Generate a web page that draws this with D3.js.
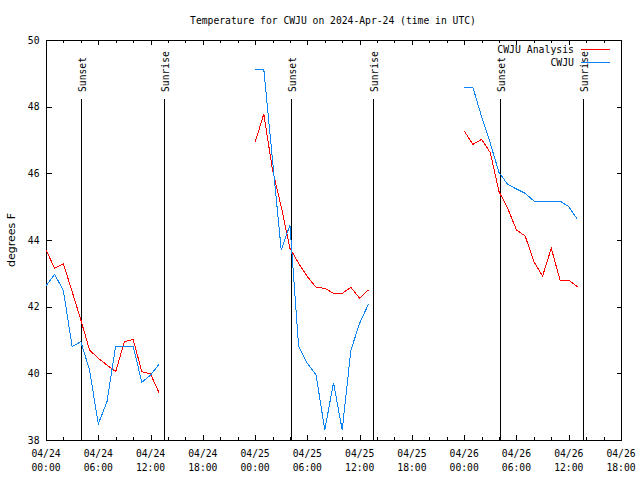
<!DOCTYPE html>
<html>
<head>
<meta charset="utf-8">
<script src="https://cdn.jsdelivr.net/npm/d3@7"></script>
<style>
  html, body { margin: 0; padding: 0; background: #fff; }
  svg { display: block; }
  .mono { font-family: "DejaVu Sans Mono", "Liberation Mono", monospace; }
</style>
</head>
<body>
<svg id="chart" width="640" height="480"></svg>
<script>
// ---- data ----
const startTime = "2024-04-24T00:00:00Z";
const endTime = "2024-04-26T18:00:00Z";
// hours after start for each observation
const hours = d3.range(0, 62);
// CWJU Analysis (red); null = no data
const analysisSeg1 = [43.7, 43.15, 43.28, 42.45, 41.6, 40.7, 40.45, 40.25, 40.05, 40.95, 41.02, 40.05, 39.98, 39.4];
const analysisSeg2 = [46.93, 47.78, 46.1, 45.0, 43.75, 43.3, 42.9, 42.58, 42.55, 42.4, 42.4, 42.58, 42.25, 42.5];
const analysisSeg3 = [47.27, 46.87, 47.02, 46.62, 45.45, 44.95, 44.3, 44.12, 43.35, 42.92, 43.75, 42.8, 42.8, 42.6];
// CWJU observations (blue)
const obsSeg1 = [42.63, 42.97, 42.48, 40.8, 40.95, 40.1, 38.48, 39.15, 40.82, 40.82, 40.82, 39.73, 39.95, 40.28];
const obsSeg2 = [49.12, 49.12, 46.4, 43.7, 44.45, 40.8, 40.3, 39.95, 38.3, 39.72, 38.3, 40.7, 41.5, 42.07];
const obsSeg3 = [48.58, 48.58, 47.7, 46.9, 46.02, 45.67, 45.53, 45.4, 45.17, 45.17, 45.17, 45.17, 45.0, 44.62];
const gap = Array(10).fill(null);
const analysisValues = [...analysisSeg1, ...gap, ...analysisSeg2, ...gap, ...analysisSeg3];
const obsValues = [...obsSeg1, ...gap, ...obsSeg2, ...gap, ...obsSeg3];

const sunsetTimes = ["2024-04-24T04:00:00Z", "2024-04-25T04:06:00Z", "2024-04-26T04:08:00Z"];
const sunriseTimes = ["2024-04-24T13:35:00Z", "2024-04-25T13:35:00Z", "2024-04-26T13:35:00Z"];
const yTicks = [38, 40, 42, 44, 46, 48, 50];
const seriesNames = ["CWJU Analysis", "CWJU"];
const seriesColors = ["#ff0000", "#0a84f5"];
const titleText = "Temperature for CWJU on 2024-Apr-24 (time in UTC)";
const yLabel = "degrees F";

// ---- layout ----
const L = 46, R = 621, T = 40, B = 440;
const svg = d3.select("#chart");
svg.append("rect").attr("width", 640).attr("height", 480).attr("fill", "#fff");

const t0 = new Date(startTime);
const x = d3.scaleUtc().domain([t0, new Date(endTime)]).range([L, R]);
const y = d3.scaleLinear().domain([38, 50]).range([B, T]);
const timeOf = h => new Date(t0.getTime() + h * 3600e3);

const minor = d3.utcHour.every(2).range(t0, new Date(new Date(endTime).getTime() + 1));
const major = d3.utcHour.every(6).range(t0, new Date(new Date(endTime).getTime() + 1));

const g = svg.append("g").attr("shape-rendering", "crispEdges");

// frame
g.append("rect").attr("x", L + 0.5).attr("y", T + 0.5).attr("width", R - L).attr("height", B - T)
  .attr("fill", "none").attr("stroke", "#000");

// x ticks (bottom and top, inward)
const isMajor = d => d.getUTCHours() % 6 === 0;
g.selectAll(".xtb").data(minor).join("line")
  .attr("x1", d => Math.round(x(d)) + 0.5).attr("x2", d => Math.round(x(d)) + 0.5)
  .attr("y1", B).attr("y2", d => B - (isMajor(d) ? 5 : 3)).attr("stroke", "#000");
g.selectAll(".xtt").data(minor).join("line")
  .attr("x1", d => Math.round(x(d)) + 0.5).attr("x2", d => Math.round(x(d)) + 0.5)
  .attr("y1", T).attr("y2", d => T + (isMajor(d) ? 5 : 3)).attr("stroke", "#000");

// y axis left and right
const yLeft = svg.append("g").attr("transform", `translate(${L + 0.5},0)`)
  .call(d3.axisLeft(y).tickValues(yTicks).tickSize(-5).tickPadding(7).tickFormat(d3.format("d")));
yLeft.select(".domain").remove();
yLeft.selectAll("line").attr("shape-rendering", "crispEdges");
yLeft.selectAll("text").attr("class", "mono").style("font-size", "9.7px").attr("fill", "#000");
const yRight = svg.append("g").attr("transform", `translate(${R + 0.5},0)`)
  .call(d3.axisRight(y).tickValues(yTicks).tickSize(-5).tickFormat(""));
yRight.select(".domain").remove();
yRight.selectAll("line").attr("shape-rendering", "crispEdges");

// x labels
const fmtDate = d3.utcFormat("%m/%d"), fmtTime = d3.utcFormat("%H:%M");
const xl = svg.append("g").attr("class", "mono").style("font-size", "9.7px").attr("text-anchor", "middle");
xl.selectAll("text.d").data(major).join("text").attr("x", d => x(d)).attr("y", 456.5).text(fmtDate);
xl.selectAll("text.t").data(major).join("text").attr("x", d => x(d)).attr("y", 470.5).text(fmtTime);

// sunrise / sunset markers
const markers = [
  ...sunsetTimes.map(t => ({ t: new Date(t), label: "Sunset" })),
  ...sunriseTimes.map(t => ({ t: new Date(t), label: "Sunrise" }))
];
g.selectAll(".mk").data(markers).join("line")
  .attr("x1", d => Math.round(x(d.t)) + 0.5).attr("x2", d => Math.round(x(d.t)) + 0.5)
  .attr("y1", 99).attr("y2", B).attr("stroke", "#000");
svg.append("g").selectAll("text").data(markers).join("text")
  .attr("class", "mono").style("font-size", "9.7px")
  .attr("transform", d => `translate(${Math.round(x(d.t)) + 4.5},92) rotate(-90)`)
  .text(d => d.label);

// data lines
const line = d3.line().defined(d => d.v !== null).x(d => x(d.t)).y(d => y(d.v));
const series = [analysisValues, obsValues];
series.forEach((vals, i) => {
  const pts = hours.map((h, k) => ({ t: timeOf(h), v: vals[k] }));
  svg.append("path").datum(pts).attr("d", line).attr("fill", "none")
    .attr("stroke", seriesColors[i]).attr("stroke-width", 1)
    .attr("shape-rendering", "crispEdges");
});

// legend
const leg = svg.append("g");
seriesNames.forEach((n, i) => {
  const yy = 49.5 + i * 13;
  leg.append("text").attr("class", "mono").style("font-size", "9.8px")
    .attr("x", 574).attr("y", yy + 3.5).attr("text-anchor", "end").text(n);
  leg.append("line").attr("x1", 581).attr("x2", 610).attr("y1", yy).attr("y2", yy)
    .attr("stroke", seriesColors[i]).attr("stroke-width", 1)
    .attr("shape-rendering", "crispEdges");
});

// title and y label
svg.append("text").attr("class", "mono").style("font-size", "9.7px")
  .attr("x", 333).attr("y", 23.5).attr("text-anchor", "middle").text(titleText);
svg.append("text").style("font-family", "DejaVu Sans, sans-serif").style("font-size", "11px")
  .attr("transform", "translate(15,240) rotate(-90)").attr("text-anchor", "middle").text(yLabel);
</script>
</body>
</html>
